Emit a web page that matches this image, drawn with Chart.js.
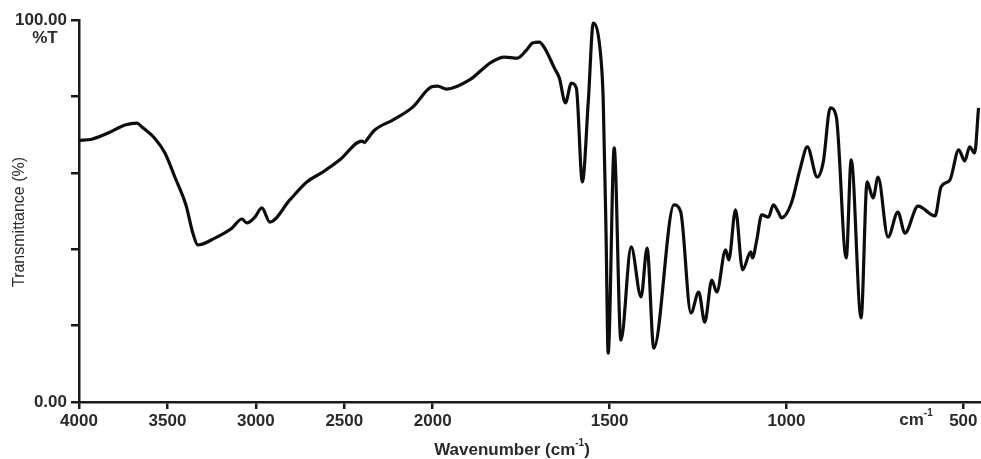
<!DOCTYPE html>
<html>
<head>
<meta charset="utf-8">
<script src="https://cdn.jsdelivr.net/npm/chart.js@4.4.1/dist/chart.umd.min.js"></script>
<style>
  html, body { margin: 0; padding: 0; background: #fff; }
</style>
</head>
<body>
<canvas id="ir" width="981" height="459"></canvas>
<script>
// FTIR spectrum
const wavenumbers = [
  4000, 3927, 3836, 3740, 3672, 3644, 3571, 3514, 3458, 3395, 3355, 3328,
  3232, 3136, 3079, 3051, 3006, 2966, 2921, 2808, 2712, 2621, 2525, 2401,
  2385, 2373, 2328, 2226, 2113, 2006, 1986, 1961, 1896, 1834, 1797, 1761,
  1735, 1718, 1699, 1684, 1656, 1642, 1625, 1608, 1594, 1577, 1560, 1546,
  1524, 1518, 1510, 1504, 1487, 1468, 1439, 1411, 1394, 1375, 1318, 1299,
  1270, 1248, 1231, 1211, 1197, 1172, 1163, 1144, 1124, 1101, 1096, 1084,
  1070, 1051, 1037, 1023, 1014, 986, 960, 941, 913, 896, 876, 859,
  831, 817, 789, 772, 755, 741, 713, 685, 665, 628, 580, 563,
  538, 513, 496, 482, 468, 457
];
const transmittance = [
  68.5, 68.8, 70.4, 72.5, 73.0, 72.0, 69.0, 65.2, 58.9, 51.5, 44.0, 41.1,
  42.9, 45.5, 47.9, 46.9, 48.4, 50.8, 47.1, 52.9, 57.6, 60.2, 63.4, 68.3,
  67.9, 68.6, 71.2, 73.8, 77.2, 82.5, 82.7, 81.9, 84.3, 89.0, 90.3, 90.0,
  92.1, 94.0, 94.2, 92.7, 87.4, 84.8, 78.3, 83.5, 82.2, 57.6, 79.0, 99.2,
  89.5, 79.0, 44.0, 12.8, 66.5, 16.2, 40.6, 27.5, 40.3, 14.1, 51.6, 49.8,
  23.3, 28.8, 20.9, 31.9, 28.8, 39.8, 37.2, 50.3, 34.6, 39.3, 37.7, 42.4,
  49.0, 48.4, 51.6, 49.7, 48.2, 52.1, 61.5, 66.8, 58.9, 62.8, 77.0, 74.6,
  37.7, 63.4, 22.0, 57.6, 53.4, 58.9, 43.2, 49.7, 44.2, 51.3, 48.7, 56.3,
  58.1, 66.0, 63.1, 66.8, 65.2, 77.0
];
const xTickValues = [4000, 3500, 3000, 2500, 2000, 1500, 1000, 500];
const yTickValues = [0, 20, 40, 60, 80, 100];
const lowestWavenumber = 450;

// instrument plots below 2000 cm-1 at twice the scale
function toAxis(w) { return w >= 2000 ? 4000 - w : 2000 + 2 * (2000 - w); }
function fromAxis(d) { return d <= 2000 ? 4000 - d : 2000 - (d - 2000) / 2; }

const ink = "#1a1a1a";
const fontFamily = "'Liberation Sans', Arial, sans-serif";
const labelFont = { family: fontFamily, size: 17, weight: "bold" };

const extraText = {
  id: "extraText",
  afterDraw(chart) {
    const ctx = chart.ctx;
    ctx.save();
    ctx.fillStyle = "#2a2a2a";
    ctx.textBaseline = "middle";

    ctx.font = "bold 17px " + fontFamily;
    ctx.textAlign = "center";
    ctx.fillText("%T", 45, 38);

    // cm-1 with superscript, drawn piecewise
    function supText(before, after, cx, cy, size) {
      const big = "bold " + size + "px " + fontFamily;
      const small = "bold " + Math.round(size * 0.6) + "px " + fontFamily;
      ctx.font = big;
      const w1 = ctx.measureText(before).width;
      const w3 = ctx.measureText(after).width;
      ctx.font = small;
      const w2 = ctx.measureText("-1").width;
      let x = cx - (w1 + w2 + w3) / 2;
      ctx.textAlign = "left";
      ctx.font = big;
      ctx.fillText(before, x, cy);
      x += w1;
      ctx.font = small;
      ctx.fillText("-1", x, cy - size * 0.4);
      x += w2;
      ctx.font = big;
      ctx.fillText(after, x, cy);
    }
    supText("Wavenumber (cm", ")", 512, 450, 17);
    supText("cm", "", 916, 420, 17);

    ctx.font = "16px " + fontFamily;
    ctx.translate(20, 222);
    ctx.rotate(-Math.PI / 2);
    ctx.textAlign = "center";
    ctx.fillText("Transmittance (%)", 0, 0);
    ctx.restore();
  }
};

new Chart(document.getElementById("ir"), {
  type: "line",
  data: {
    datasets: [{
      data: wavenumbers.map((w, i) => ({ x: toAxis(w), y: transmittance[i] })),
      borderColor: "#0d0d0d",
      borderWidth: 3.2,
      pointRadius: 0,
      cubicInterpolationMode: "monotone",
      fill: false,
    }],
  },
  options: {
    responsive: false,
    animation: false,
    layout: { padding: { top: 20, right: 0, bottom: 0, left: 0 } },
    plugins: {
      legend: { display: false },
      tooltip: { enabled: false },
    },
    scales: {
      x: {
        type: "linear",
        min: 0,
        max: toAxis(lowestWavenumber),
        afterBuildTicks: (s) => { s.ticks = xTickValues.map(w => ({ value: toAxis(w) })); },
        afterFit: (s) => { s.height = 57; },
        ticks: {
          callback: (v) => String(Math.round(fromAxis(v))),
          color: "#2a2a2a",
          font: labelFont,
          padding: 2,
          maxRotation: 0,
          autoSkip: false,
        },
        grid: { drawOnChartArea: false, drawTicks: true, tickLength: 7, color: ink, lineWidth: 2.5 },
        border: { display: true, color: ink, width: 2.5 },
      },
      y: {
        min: 0,
        max: 100,
        afterBuildTicks: (s) => { s.ticks = yTickValues.map(v => ({ value: v })); },
        afterFit: (s) => { s.width = 79; },
        ticks: {
          callback: (v) => v === 100 ? "100.00" : v === 0 ? "0.00" : "",
          color: "#2a2a2a",
          font: labelFont,
          padding: 4,
          autoSkip: false,
        },
        grid: { drawOnChartArea: false, drawTicks: true, tickLength: 8, color: ink, lineWidth: 2.5 },
        border: { display: true, color: ink, width: 2.5 },
      },
    },
  },
  plugins: [extraText],
});
</script>
</body>
</html>
